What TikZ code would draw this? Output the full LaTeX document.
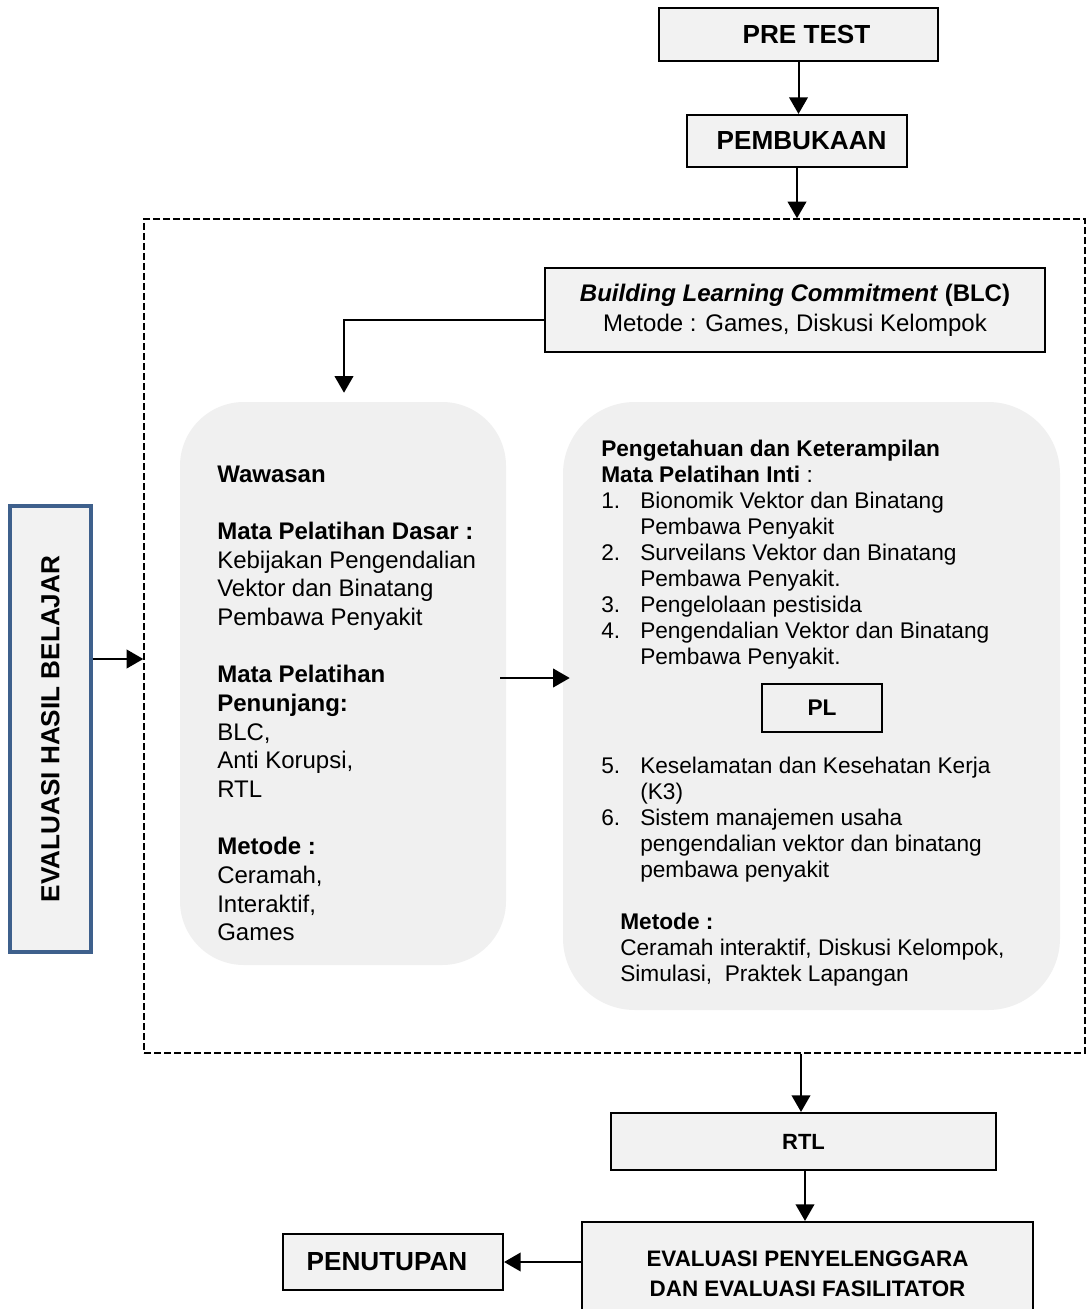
\documentclass[tikz,border=0pt]{standalone}
\usepackage{fontspec}
\setmainfont{Liberation Sans}
\usetikzlibrary{arrows.meta,calc}
\definecolor{boxgray}{HTML}{F2F2F2}
\definecolor{roundgray}{HTML}{F0F0F0}
\definecolor{evalblue}{RGB}{62,96,140}
\begin{document}
\begin{tikzpicture}[x=0.75pt,y=-0.75pt,
  box/.style={draw,line width=1.6pt,fill=boxgray,inner sep=0pt,align=center},
  bigbold/.style={font=\bfseries\fontsize{19.6pt}{23pt}\selectfont},
  midbold/.style={font=\bfseries\fontsize{16.5pt}{22.5pt}\selectfont},
  roundbox/.style={fill=roundgray,rounded corners=48pt,inner sep=0pt},
  txtL/.style={anchor=north west,inner sep=0pt,align=left,font=\fontsize{18pt}{21.5pt}\selectfont},
  txtR/.style={anchor=north west,inner sep=0pt,align=left,font=\fontsize{17pt}{19.5pt}\selectfont},
  conn/.style={line width=1.5pt,-{Triangle[length=12.5pt,width=14pt]}},
  dashbox/.style={draw,line width=1.1pt,dash pattern=on 5pt off 2.5pt,inner sep=0pt}]
\useasboundingbox (0,0) rectangle (1086,1309);
\clip (0,0) rectangle (1086,1309);
\fill[white] (0,0) rectangle (1086,1309);

% top boxes
\node[box,bigbold,minimum width=209.25pt,minimum height=39.75pt] (pretest) at (798.5,34.5) {\hspace*{12pt}PRE TEST};
\node[box,bigbold,minimum width=165pt,minimum height=39pt] (pembukaan) at (797,141) {\hspace*{7pt}PEMBUKAAN};

% dashed frame
\node[dashbox,minimum width=705.75pt,minimum height=625.5pt] (frame) at (614.5,636) {};

% BLC
\node[box,minimum width=375pt,minimum height=63pt,font=\fontsize{18pt}{22.5pt}\selectfont] (blc) at (795,310)
  {\textbf{\textit{Building Learning Commitment}} \textbf{(BLC)}\\Metode : Games, Diskusi Kelompok};

% rounded boxes
\node[roundbox,minimum width=244.5pt,minimum height=422.25pt] (leftbox) at (343,683.5) {};
\node[roundbox,rounded corners=54pt,minimum width=372.75pt,minimum height=456pt] (rightbox) at (811.5,706) {};

% left text
\node[txtL] (lefttext) at (217,465.5) {%
\textbf{Wawasan}\\[21.5pt]
\textbf{Mata Pelatihan Dasar :}\\
Kebijakan Pengendalian\\
Vektor dan Binatang\\
Pembawa Penyakit\\[21.5pt]
\textbf{Mata Pelatihan}\\
\textbf{Penunjang:}\\
BLC,\\
Anti Korupsi,\\
RTL\\[21.5pt]
\textbf{Metode :}\\
Ceramah,\\
Interaktif,\\
Games};

% right text
\node[txtR] (righttext1) at (601,439.5) {%
\textbf{Pengetahuan dan Keterampilan}\\
\textbf{Mata Pelatihan Inti} :\\
\makebox[29.25pt][l]{1.}Bionomik Vektor dan Binatang\\
\hspace*{29.25pt}Pembawa Penyakit\\
\makebox[29.25pt][l]{2.}Surveilans Vektor dan Binatang\\
\hspace*{29.25pt}Pembawa Penyakit.\\
\makebox[29.25pt][l]{3.}Pengelolaan pestisida\\
\makebox[29.25pt][l]{4.}Pengendalian Vektor dan Binatang\\
\hspace*{29.25pt}Pembawa Penyakit.};

\node[draw,line width=1.4pt,inner sep=0pt,minimum width=90pt,minimum height=36pt,font=\bfseries\fontsize{17pt}{22.5pt}\selectfont] (pl) at (822,708) {PL};

\node[txtR] (righttext2) at (601,756.5) {%
\makebox[29.25pt][l]{5.}Keselamatan dan Kesehatan Kerja\\
\hspace*{29.25pt}(K3)\\
\makebox[29.25pt][l]{6.}Sistem manajemen usaha\\
\hspace*{29.25pt}pengendalian vektor dan binatang\\
\hspace*{29.25pt}pembawa penyakit};

\node[txtR] (righttext3) at (620,912.5) {%
\textbf{Metode :}\\
Ceramah interaktif, Diskusi Kelompok,\\
Simulasi,\ \ Praktek Lapangan};

% evaluasi hasil belajar
\node[draw=evalblue,line width=2.8pt,fill=boxgray,inner sep=0pt,minimum width=60.75pt,minimum height=334.5pt] (evalh) at (50.5,729) {};
\node[rotate=90,bigbold,inner sep=0pt] (evalhtext) at (evalh.center) {EVALUASI HASIL BELAJAR};

% bottom boxes
\node[box,midbold,minimum width=288.75pt,minimum height=42.75pt] (rtl) at (803.5,1141.5) {RTL};
\node[box,minimum width=338.25pt,minimum height=78pt,font=\bfseries\fontsize{16.8pt}{22.5pt}\selectfont] (evalp) at (807.5,1274) {EVALUASI PENYELENGGARA\\DAN EVALUASI FASILITATOR};
\node[box,bigbold,minimum width=165pt,minimum height=42pt] (penutupan) at (393,1262) {PENUTUPAN\hspace*{9pt}};

% connectors
\draw[conn] (pretest.south) -- (pretest.south |- pembukaan.north);
\draw[conn] (pembukaan.south) -- (pembukaan.south |- frame.north);
\coordinate (blcout) at ($(blc.west)+(0,10)$);
\coordinate (leftin) at ($(leftbox.north)+(1,-9)$);
\draw[conn] (blcout) -| (leftin);
\coordinate (midstart) at ($(leftbox.east)+(-6,-5.5)$);
\coordinate (midend) at ($(midstart -| rightbox.west)+(7,0)$);
\draw[conn] (midstart) -- (midend);
\coordinate (evalhout) at ($(evalh.east)+(0,-70)$);
\draw[conn] (evalhout) -- (evalhout -| frame.west);
\coordinate (frameout) at ($(frame.south)+(186.5,0)$);
\draw[conn] (frameout) -- (frameout |- rtl.north);
\coordinate (rtlout) at ($(rtl.south)+(1.5,0)$);
\draw[conn] (rtlout) -- (rtlout |- evalp.north);
\coordinate (evalpout) at (penutupan.east -| evalp.west);
\draw[conn] (evalpout) -- (penutupan.east);
\end{tikzpicture}
\end{document}
